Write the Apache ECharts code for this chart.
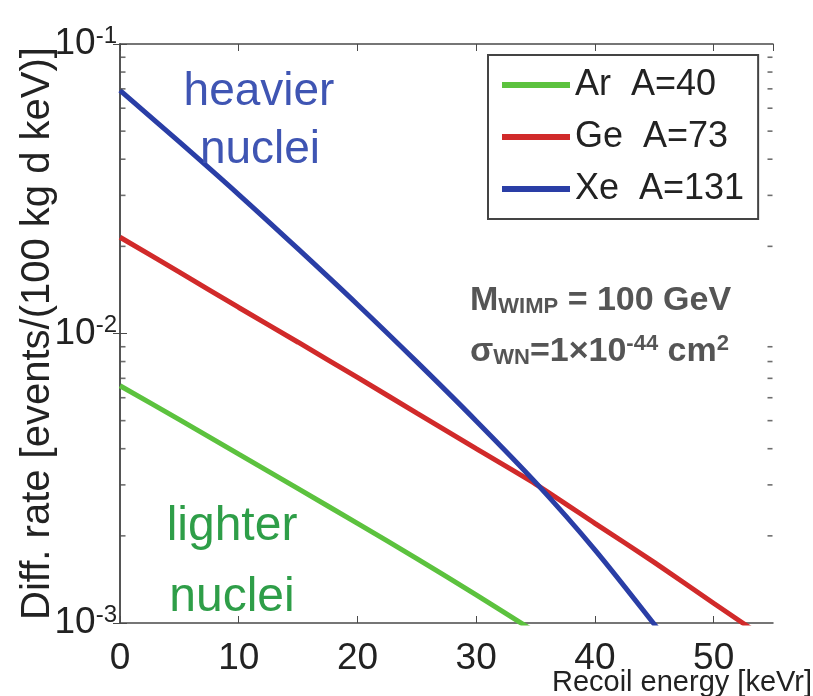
<!DOCTYPE html>
<html>
<head>
    <meta charset="utf-8">
    <script src="https://cdn.jsdelivr.net/npm/echarts@6/dist/echarts.min.js"></script>
    <style>
        html, body {margin: 0; padding: 0; background: #fff;}
    </style>
</head>
<body>
<div id="main" style="width: 813px; height: 696px"></div>
<script type="text/javascript">
    // recoil energy [keVr] sample points
    var energy = [0, 5, 10, 15, 20, 25, 30, 35, 40, 45, 50, 55];
    // differential rates
    var rateAr = [0.0066, 0.00504, 0.00383, 0.00291, 0.00221, 0.00167, 0.00125, 0.00093];
    var rateGe = [0.0215, 0.0163, 0.0123, 0.00933, 0.00705, 0.00531, 0.0040, 0.00302, 0.00221, 0.00162, 0.00117, 0.00085];
    var rateXe = [0.0692, 0.0459, 0.0302, 0.0196, 0.0126, 0.00798, 0.00499, 0.00306, 0.00179, 0.00099, 0.00054];
    var seriesNames = ['Ar  A=40', 'Ge  A=73', 'Xe  A=131'];
    var seriesColors = ['#5cc23e', '#d12a2a', '#2a3ea6'];
    // minor log ticks on the y axis
    var minorTicks = [0.002, 0.003, 0.004, 0.005, 0.006, 0.007, 0.008, 0.009,
        0.02, 0.03, 0.04, 0.05, 0.06, 0.07, 0.08, 0.09];

    function pairs(ys) {
        return ys.map(function (y, i) { return [energy[i], y]; });
    }

    var axisGray = '#4a4a4a';
    var mainFont = '"Liberation Sans", Arial, sans-serif';

    var myChart = echarts.init(document.getElementById('main'));
    var option = {
        backgroundColor: '#fff',
        animation: false,
        grid: {left: 120, right: 40, top: 44, bottom: 73, outerBoundsMode: 'none', containLabel: false},
        legend: {
            data: seriesNames,
            orient: 'vertical',
            left: 488, top: 55,
            icon: 'rect',
            itemWidth: 68, itemHeight: 6,
            itemGap: 16,
            padding: [12, 14, 12, 14],
            borderColor: '#444', borderWidth: 2,
            backgroundColor: '#fff',
            textStyle: {fontSize: 36, lineHeight: 36, color: '#222', fontFamily: mainFont}
        },
        xAxis: [
            {
                type: 'value', min: 0, max: 55, interval: 10,
                axisLine: {lineStyle: {color: axisGray, width: 1.5}},
                axisTick: {inside: true, length: 7, lineStyle: {color: axisGray}},
                splitLine: {show: false},
                axisLabel: {
                    showMaxLabel: false, margin: 17,
                    fontSize: 37, color: '#222', fontFamily: mainFont
                }
            },
            {
                type: 'value', position: 'top', min: 0, max: 55, interval: 10,
                axisLine: {lineStyle: {color: axisGray, width: 1.5}},
                axisTick: {inside: true, length: 7, lineStyle: {color: axisGray}},
                splitLine: {show: false},
                axisLabel: {show: false}
            }
        ],
        yAxis: [
            {
                type: 'log', logBase: 10, min: 0.001, max: 0.1,
                name: 'Diff. rate [events/(100 kg d keV)]',
                nameLocation: 'middle', nameRotate: 90, nameGap: 62,
                nameMoveOverlap: false,
                nameTextStyle: {fontSize: 40, color: '#222', fontFamily: mainFont},
                axisLine: {show: true, lineStyle: {color: axisGray, width: 1.5}},
                axisTick: {inside: true, length: 7, lineStyle: {color: axisGray}},
                splitLine: {show: false},
                axisLabel: {
                    margin: 3,
                    formatter: function (v) {
                        return '{a|10}{b|' + Math.round(Math.log10(v)) + '}';
                    },
                    rich: {
                        a: {fontSize: 37, lineHeight: 40, color: '#222', fontFamily: mainFont},
                        b: {fontSize: 24, lineHeight: 24, padding: [0, 0, 20, 0], verticalAlign: 'top',
                            color: '#222', fontFamily: mainFont}
                    }
                }
            },
            {
                type: 'log', logBase: 10, min: 0.001, max: 0.1, position: 'right',
                axisLine: {show: true, lineStyle: {color: axisGray, width: 1.5}},
                axisTick: {inside: true, length: 7, lineStyle: {color: axisGray}},
                splitLine: {show: false},
                axisLabel: {show: false}
            }
        ],
        series: [
            {
                name: seriesNames[0], type: 'line', data: pairs(rateAr),
                showSymbol: false, symbol: 'none', smooth: 0.2,
                lineStyle: {width: 5, color: seriesColors[0]}, itemStyle: {color: seriesColors[0]}
            },
            {
                name: seriesNames[1], type: 'line', data: pairs(rateGe),
                showSymbol: false, symbol: 'none', smooth: 0.2,
                lineStyle: {width: 5, color: seriesColors[1]}, itemStyle: {color: seriesColors[1]}
            },
            {
                name: seriesNames[2], type: 'line', data: pairs(rateXe),
                showSymbol: false, symbol: 'none', smooth: 0.3,
                lineStyle: {width: 5, color: seriesColors[2]}, itemStyle: {color: seriesColors[2]}
            },
            {
                name: 'minorLeft', type: 'scatter', clip: false, silent: true, z: 5,
                data: minorTicks.map(function (v) { return [0, v]; }),
                symbol: 'rect', symbolSize: [5, 1.6], symbolOffset: [3, 0],
                itemStyle: {color: axisGray}
            },
            {
                name: 'minorRight', type: 'scatter', clip: false, silent: true, z: 5,
                data: minorTicks.map(function (v) { return [55, v]; }),
                symbol: 'rect', symbolSize: [5, 1.6], symbolOffset: [-3, 0],
                itemStyle: {color: axisGray}
            }
        ],
        graphic: [
            {
                type: 'text', z: 10,
                style: {
                    text: 'heavier', x: 259, y: 92, align: 'center', verticalAlign: 'middle',
                    fontSize: 46, fontFamily: mainFont, fill: '#3f55b3'
                }
            },
            {
                type: 'text', z: 10,
                style: {
                    text: 'nuclei', x: 260, y: 150, align: 'center', verticalAlign: 'middle',
                    fontSize: 46, fontFamily: mainFont, fill: '#3f55b3'
                }
            },
            {
                type: 'text', z: 10,
                style: {
                    text: 'lighter', x: 232, y: 527, align: 'center', verticalAlign: 'middle',
                    fontSize: 48, fontFamily: mainFont, fill: '#2e9e48'
                }
            },
            {
                type: 'text', z: 10,
                style: {
                    text: 'nuclei', x: 232, y: 598, align: 'center', verticalAlign: 'middle',
                    fontSize: 48, fontFamily: mainFont, fill: '#2e9e48'
                }
            },
            {
                type: 'text', z: 10,
                style: {
                    text: '{m|M}{s|WIMP}{m| = 100 GeV}', x: 470, y: 300, verticalAlign: 'middle',
                    rich: {
                        m: {fontSize: 34, fontWeight: 'bold', fontFamily: mainFont, fill: '#555', lineHeight: 36, verticalAlign: 'bottom'},
                        s: {fontSize: 22, fontWeight: 'bold', fontFamily: mainFont, fill: '#555', lineHeight: 26, verticalAlign: 'bottom'}
                    }
                }
            },
            {
                type: 'text', z: 10,
                style: {
                    text: '{m|σ}{s|WN}{m|=1×10}{p|-44}{m| cm}{p|2}', x: 470, y: 351, verticalAlign: 'middle',
                    rich: {
                        m: {fontSize: 34, fontWeight: 'bold', fontFamily: mainFont, fill: '#555', lineHeight: 36, verticalAlign: 'bottom'},
                        s: {fontSize: 22, fontWeight: 'bold', fontFamily: mainFont, fill: '#555', lineHeight: 26, verticalAlign: 'bottom'},
                        p: {fontSize: 22, fontWeight: 'bold', fontFamily: mainFont, fill: '#555', lineHeight: 22, verticalAlign: 'top'}
                    }
                }
            },
            {
                type: 'text', z: 10,
                style: {
                    text: 'Recoil energy [keVr]', x: 812, y: 683, align: 'right', verticalAlign: 'middle',
                    fontSize: 29, fontFamily: mainFont, fill: '#222'
                }
            }
        ]
    };
    myChart.setOption(option);
</script>
</body>
</html>
